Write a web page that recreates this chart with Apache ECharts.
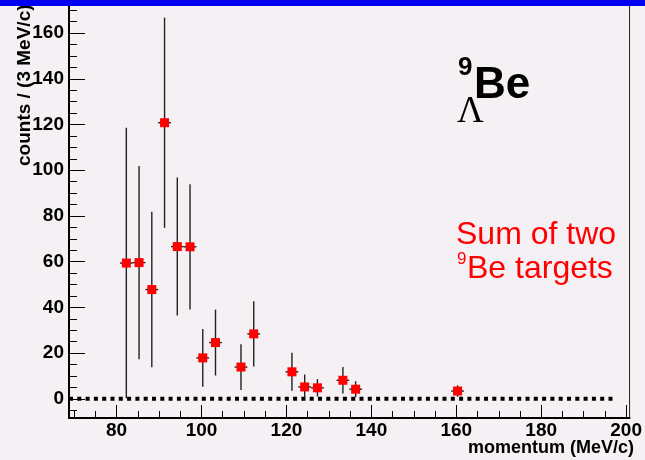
<!DOCTYPE html>
<html>
<head>
<meta charset="utf-8">
<script src="https://cdn.jsdelivr.net/npm/echarts@6/dist/echarts.min.js"></script>
<style>
  html, body { margin: 0; padding: 0; background: #f4f0f4; }
  #chart { width: 645px; height: 460px; }
</style>
</head>
<body>
<div id="chart"></div>
<script>
// bin centres (MeV/c), counts per 3 MeV/c and their errors
const momentum = [82.3, 85.3, 88.3, 91.3, 94.3, 97.3, 100.3, 103.3, 109.3, 112.3, 121.3, 124.3, 127.3, 133.3, 136.3, 160.3];
const counts   = [59.4, 59.6, 47.8, 120.8, 66.6, 66.5, 17.9, 24.6, 13.9, 28.4, 11.8, 5.2, 4.8, 8.1, 4.2, 3.4];
const errors   = [59.2, 42.3, 34.0, 46.0, 30.2, 27.4, 12.6, 14.4, 10.0, 14.3, 8.3, 5.4, 3.8, 5.8, 3.5, 2.5];
const binWidth = 3;

// axis ticks
const xMajor = [80, 100, 120, 140, 160, 180, 200];
const xMinor = [70, 75, 85, 90, 95, 105, 110, 115, 125, 130, 135, 145, 150, 155, 165, 170, 175, 185, 190, 195];
const yMajor = [0, 20, 40, 60, 80, 100, 120, 140, 160];
const yMinor = [-5, 5, 10, 15, 25, 30, 35, 45, 50, 55, 65, 70, 75, 85, 90, 95, 105, 110, 115, 125, 130, 135, 145, 150, 155, 165, 170];

// dotted zero line
const zeroLine = [[68.8, 0], [197.5, 0]];

const xMin = 68.8, xMax = 200.8;
const yMin = -8.4, yMax = 174.5;

const chart = echarts.init(document.getElementById('chart'));

const labelFont = { fontFamily: 'Liberation Sans, Arial, sans-serif', fontWeight: 'bold', fontSize: 19, color: '#000' };

const option = {
  animation: false,
  backgroundColor: '#f4f0f4',
  grid: {
    left: 69, right: 11, top: 0, bottom: 42,
    show: true, borderColor: '#222', borderWidth: 1, backgroundColor: '#f4f0f4'
  },
  xAxis: [
    {
      type: 'value', min: xMin, max: xMax, position: 'bottom',
      axisLine: { onZero: false, lineStyle: { color: '#000', width: 2 } },
      axisTick: { inside: true, length: 13, customValues: xMajor, lineStyle: { color: '#000', width: 1 } },
      axisLabel: Object.assign({ customValues: xMajor, margin: 3 }, labelFont),
      splitLine: { show: false }
    },
    {
      type: 'value', min: xMin, max: xMax, position: 'bottom',
      axisLine: { show: false, onZero: false },
      axisTick: { inside: true, length: 7, customValues: xMinor, lineStyle: { color: '#000', width: 1 } },
      axisLabel: { show: false },
      splitLine: { show: false }
    }
  ],
  yAxis: [
    {
      type: 'value', min: yMin, max: yMax, position: 'left',
      axisLine: { show: true, onZero: false, lineStyle: { color: '#000', width: 2 } },
      axisTick: { show: true, inside: true, length: 16, customValues: yMajor, lineStyle: { color: '#000', width: 1 } },
      axisLabel: Object.assign({ customValues: yMajor, margin: 5 }, labelFont),
      splitLine: { show: false }
    },
    {
      type: 'value', min: yMin, max: yMax, position: 'left',
      axisLine: { show: false, onZero: false },
      axisTick: { show: true, inside: true, length: 8, customValues: yMinor, lineStyle: { color: '#000', width: 1 } },
      axisLabel: { show: false },
      splitLine: { show: false }
    }
  ],
  series: [
    {
      type: 'line',
      data: zeroLine,
      symbol: 'none',
      silent: true,
      lineStyle: { color: '#000', width: 4, type: [4, 4.3], cap: 'butt' },
      z: 2
    },
    {
      type: 'custom',
      data: momentum.map((m, i) => [m, counts[i], errors[i]]),
      renderItem: function (params, api) {
        const x = api.value(0), y = api.value(1), e = api.value(2);
        const top = api.coord([x, Math.min(y + e, yMax)]);
        const bot = api.coord([x, Math.max(y - e, yMin)]);
        const l = api.coord([x - binWidth / 2, y]);
        const r = api.coord([x + binWidth / 2, y]);
        const st = { stroke: '#222', lineWidth: 1.4 };
        return {
          type: 'group',
          children: [
            { type: 'line', shape: { x1: top[0], y1: top[1], x2: bot[0], y2: bot[1] }, style: st },
            { type: 'line', shape: { x1: l[0], y1: l[1], x2: r[0], y2: r[1] }, style: st }
          ]
        };
      },
      z: 3
    },
    {
      type: 'scatter',
      data: momentum.map((m, i) => [m, counts[i]]),
      symbol: 'rect',
      symbolSize: 9,
      itemStyle: { color: '#ff0000', opacity: 1 },
      z: 10
    }
  ],
  graphic: [
    { type: 'rect', shape: { x: 0, y: 0, width: 645, height: 6 }, style: { fill: '#0000f0' }, z: 100 },
    {
      type: 'text', x: 25, y: 166, rotation: Math.PI / 2,
      style: { text: 'counts / (3 MeV/c)', font: 'bold 19px "Liberation Sans", Arial, sans-serif', fill: '#000', align: 'left', verticalAlign: 'middle' },
      z: 90
    },
    {
      type: 'text', x: 634, y: 448,
      style: { text: 'momentum (MeV/c)', font: 'bold 18px "Liberation Sans", Arial, sans-serif', fill: '#000', align: 'right', verticalAlign: 'middle' }
    },
    {
      type: 'text', x: 458, y: 68,
      style: { text: '9', font: 'bold 26px "Liberation Sans", Arial, sans-serif', fill: '#000', align: 'left', verticalAlign: 'middle' }
    },
    {
      type: 'text', x: 474, y: 86,
      style: { text: 'Be', font: 'bold 44px "Liberation Sans", Arial, sans-serif', fill: '#000', align: 'left', verticalAlign: 'middle' }
    },
    {
      type: 'text', x: 457, y: 112,
      style: { text: 'Λ', font: '37px "Liberation Serif", "Times New Roman", serif', fill: '#000', align: 'left', verticalAlign: 'middle' }
    },
    {
      type: 'text', x: 456, y: 235,
      style: { text: 'Sum of two', font: '32px "Liberation Sans", Arial, sans-serif', fill: '#ff0000', align: 'left', verticalAlign: 'middle' }
    },
    {
      type: 'text', x: 457, y: 259,
      style: { text: '9', font: '17px "Liberation Sans", Arial, sans-serif', fill: '#ff0000', align: 'left', verticalAlign: 'middle' }
    },
    {
      type: 'text', x: 467, y: 269,
      style: { text: 'Be targets', font: '32px "Liberation Sans", Arial, sans-serif', fill: '#ff0000', align: 'left', verticalAlign: 'middle' }
    }
  ]
};

chart.setOption(option);
</script>
</body>
</html>
